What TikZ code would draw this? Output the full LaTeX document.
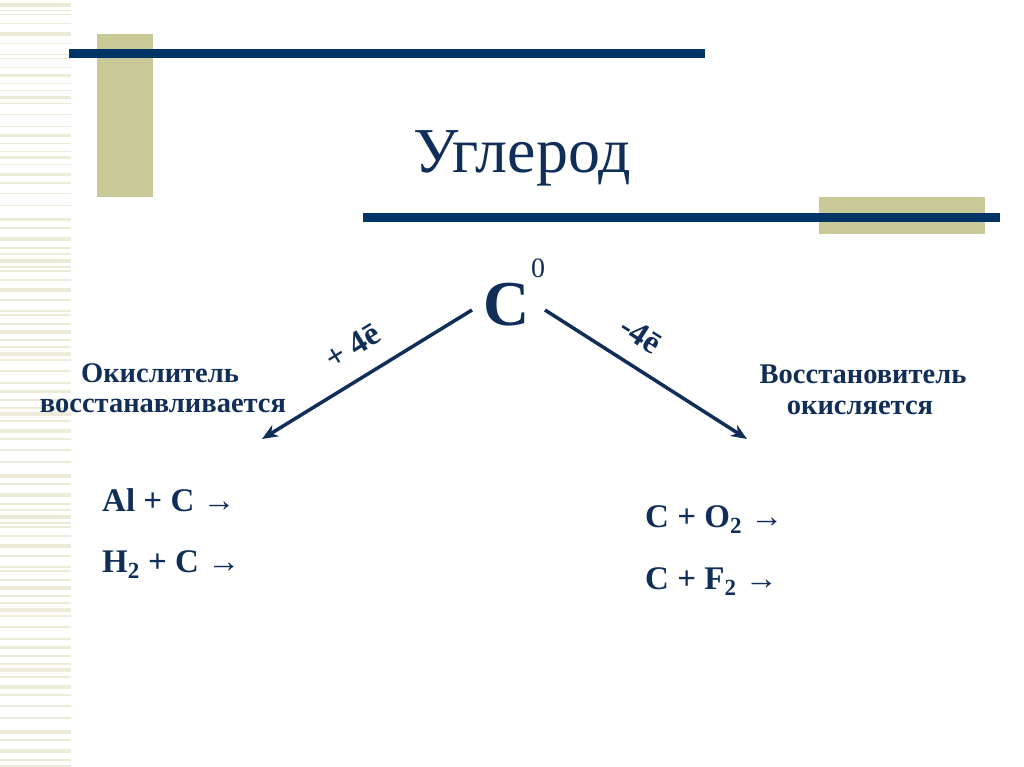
\documentclass[tikz,border=0pt]{standalone}
\usepackage{fontspec}
\setmainfont{Liberation Serif}
\usetikzlibrary{arrows.meta}
\definecolor{navy}{RGB}{0,51,102}
\definecolor{tinte}{RGB}{16,46,88}
\definecolor{oliv}{RGB}{201,201,152}

\begin{document}
\begin{tikzpicture}[x=1pt, y=-1pt,
    every node/.style={text=tinte, inner sep=0pt, font=\bfseries\fontsize{28.5}{32}\selectfont},
    pfeil/.style={draw=tinte, line width=3.5pt, -{Stealth[length=16pt,width=13pt]}},
    ladung/.style={font=\bfseries\fontsize{33}{36}\selectfont},
    gleichung/.style={anchor=base west, font=\bfseries\fontsize{33}{36}\selectfont},
  ]
  \useasboundingbox (0,0) rectangle (1024,767);

  % Streifen links
  \foreach \o in {0,256,512}
    \foreach \y/\h in {3/4, 10/1.5, 14/1.5, 23/1.5, 32/4, 43/1.5, 54/1.5, 58/1.5, 67/1.5,
                       74/3.5, 83/1.5, 90/1.5, 96/3.5, 103/1.5, 114/1.5, 126/1.5, 134/3,
                       143/1.5, 151/1.5, 156/3.5, 164/1.5, 173/3.5, 182/2, 193/1.5, 205/1.5,
                       218/3.5, 227/2, 237/4, 247/1.5, 253/1.5}
      \fill[oliv!38] (0,\o+\y) rectangle (71,\o+\y+\h);

  % Balken
  \fill[oliv] (97,34) rectangle (153,197);
  \fill[navy] (69,49) rectangle (705,58);
  \fill[oliv] (819,197) rectangle (985,234);
  \fill[navy] (363,213) rectangle (1000,222);

  % Titel
  \node[anchor=base, font=\fontsize{64}{70}\selectfont] (titel) at (522,173) {Углерод};

  % Kohlenstoff
  \node[anchor=base, font=\bfseries\fontsize{64}{70}\selectfont] (C) at (507,325) {C};
  \node[anchor=base, font=\fontsize{28}{30}\selectfont] (null) at (538,277) {0};

  % Pfeile
  \coordinate (l0) at (472,310);
  \coordinate (l1) at (262,439);
  \coordinate (r0) at (545,310);
  \coordinate (r1) at (747,439);
  \draw[pfeil] (l0) -- (l1);
  \draw[pfeil] (r0) -- (r1);
  \node[ladung, rotate=31.6] (plus) at (353,346) {+ 4ē};
  \node[ladung, rotate=-32.5] (minus) at (641,335) {-4ē};

  % Oxidationsmittel / Reduktionsmittel
  \node[anchor=base] (ox1) at (160,382) {Окислитель};
  \node[anchor=base] (ox2) at (163,412) {восстанавливается};
  \node[anchor=base] (red1) at (863,383) {Восстановитель};
  \node[anchor=base] (red2) at (860,414) {окисляется};

  % Reaktionen
  \node[gleichung] (al) at (102,511) {Al + C →};
  \node[gleichung] (h2) at (102,572) {H\textsubscript{2} + C →};
  \node[gleichung] (o2) at (645,527) {C + O\textsubscript{2} →};
  \node[gleichung] (f2) at (645,589) {C + F\textsubscript{2} →};
\end{tikzpicture}
\end{document}
